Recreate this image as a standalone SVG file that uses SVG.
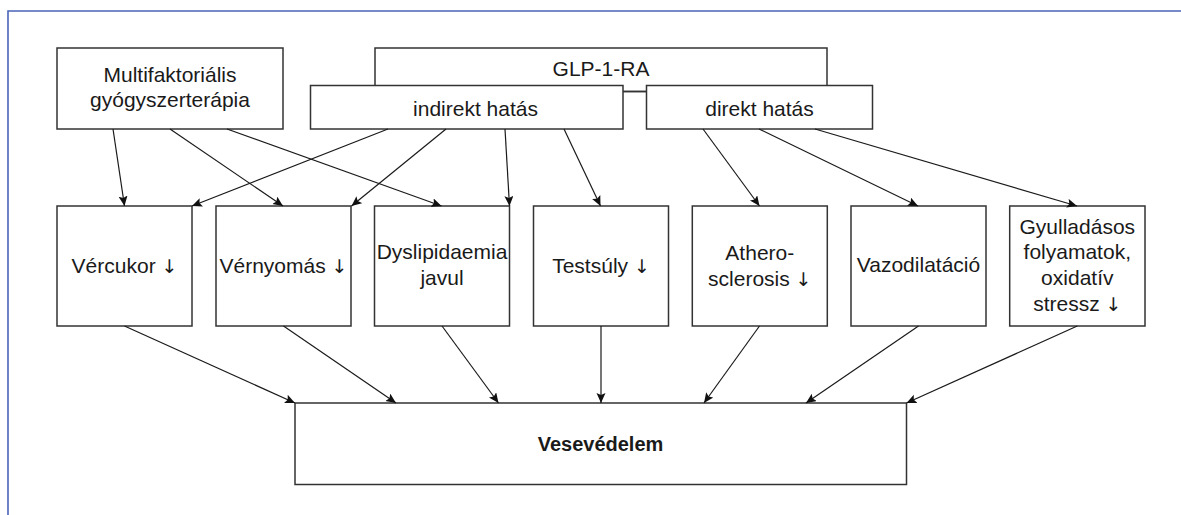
<svg xmlns="http://www.w3.org/2000/svg" width="1181" height="515" viewBox="0 0 1181 515">
  <defs>
    <marker id="ah" markerUnits="userSpaceOnUse" markerWidth="11" markerHeight="10" refX="10" refY="4.5" orient="auto">
      <path d="M0,0 L10,4.5 L0,9 L2,4.5 Z" fill="#111"/>
    </marker>
    <style>
      .box { fill: #fff; stroke: #333; stroke-width: 1.5; }
      .t { font-family: "Liberation Sans", Arial, sans-serif; font-size: 21px; fill: #1a1a1a; text-anchor: middle; }
      .ar { font-family: "DejaVu Sans", sans-serif; font-size: 19px; fill: #1a1a1a; }
      .b { font-weight: bold; font-size: 20px; }
      .c line { stroke: #1a1a1a; stroke-width: 1.2; marker-end: url(#ah); }
    </style>
  </defs>
  <rect width="1181" height="515" fill="#fff"/>
  <path d="M8,515 L8,11 L1181,11" fill="none" stroke="#4a63b8" stroke-width="1.6"/>

  <g id="multi">
    <rect class="box" x="57" y="48" width="226" height="81"/>
    <text class="t" x="170" y="82">Multifaktoriális</text>
    <text class="t" x="170" y="107">gyógyszerterápia</text>
  </g>
  <g id="glp">
    <rect class="box" x="375" y="48" width="452" height="43.5"/>
    <text class="t" x="601" y="76">GLP-1-RA</text>
  </g>
  <g id="indirekt">
    <rect class="box" x="310.5" y="85.5" width="312.5" height="43.5"/>
    <text class="t" x="475.5" y="116">indirekt hatás</text>
  </g>
  <g id="direkt">
    <rect class="box" x="646.5" y="85.5" width="226" height="43.5"/>
    <text class="t" x="759.5" y="116">direkt hatás</text>
  </g>

  <g id="vercukor">
    <rect class="box" x="57" y="206" width="135" height="120"/>
    <text class="t" x="124.5" y="272.5">Vércukor <tspan class="ar">↓</tspan></text>
  </g>
  <g id="vernyomas">
    <rect class="box" x="216" y="206" width="135" height="120"/>
    <text class="t" x="283.5" y="272.5">Vérnyomás <tspan class="ar">↓</tspan></text>
  </g>
  <g id="dyslipidaemia">
    <rect class="box" x="374.5" y="206" width="135" height="120"/>
    <text class="t" x="442" y="259">Dyslipidaemia</text>
    <text class="t" x="442" y="284.5">javul</text>
  </g>
  <g id="testsuly">
    <rect class="box" x="533.5" y="206" width="135" height="120"/>
    <text class="t" x="601" y="272.5">Testsúly <tspan class="ar">↓</tspan></text>
  </g>
  <g id="atherosclerosis">
    <rect class="box" x="692.3" y="206" width="135" height="120"/>
    <text class="t" x="759.8" y="259.5">Athero-</text>
    <text class="t" x="759.8" y="285.5">sclerosis <tspan class="ar">↓</tspan></text>
  </g>
  <g id="vazodilatacio">
    <rect class="box" x="851" y="206" width="135" height="120"/>
    <text class="t" x="918.5" y="272">Vazodilatáció</text>
  </g>
  <g id="gyulladas">
    <rect class="box" x="1009.7" y="206" width="135.3" height="120"/>
    <text class="t" x="1077.3" y="233.5">Gyulladásos</text>
    <text class="t" x="1077.3" y="259">folyamatok,</text>
    <text class="t" x="1077.3" y="285">oxidatív</text>
    <text class="t" x="1077.3" y="310.5">stressz <tspan class="ar">↓</tspan></text>
  </g>

  <g id="vesevedelem">
    <rect class="box" x="295" y="403" width="611.5" height="81.5"/>
    <text class="t b" x="600.5" y="451">Vesevédelem</text>
  </g>

  <g id="connectors" class="c">
    <path d="M623,91.5 L646.5,91.5" stroke="#333" stroke-width="1.5" fill="none"/>
    <line x1="113" y1="129" x2="124.5" y2="206"/>
    <line x1="170" y1="129" x2="283" y2="206"/>
    <line x1="227" y1="129" x2="441.5" y2="206"/>
    <line x1="388" y1="129" x2="192" y2="206"/>
    <line x1="446" y1="129" x2="351.5" y2="206"/>
    <line x1="505" y1="129" x2="509.5" y2="206"/>
    <line x1="564" y1="129" x2="600.5" y2="206"/>
    <line x1="703" y1="129" x2="759.5" y2="206"/>
    <line x1="759" y1="129" x2="918" y2="206"/>
    <line x1="815" y1="129" x2="1077" y2="206"/>
    <line x1="124.5" y1="326" x2="295" y2="403"/>
    <line x1="283.5" y1="326" x2="396" y2="403"/>
    <line x1="442" y1="326" x2="498.5" y2="403"/>
    <line x1="601" y1="326" x2="601" y2="403"/>
    <line x1="759.5" y1="326" x2="704" y2="403"/>
    <line x1="918.5" y1="326" x2="806" y2="403"/>
    <line x1="1077.3" y1="326" x2="906.5" y2="403"/>
  </g>
</svg>
